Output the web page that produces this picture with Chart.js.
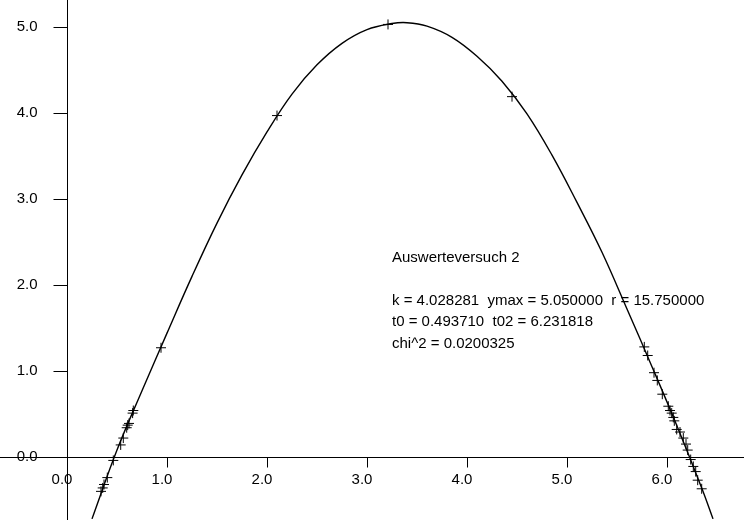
<!DOCTYPE html>
<html>
<head>
<meta charset="utf-8">
<script src="https://cdn.jsdelivr.net/npm/chart.js@4/dist/chart.umd.min.js"></script>
<style>
  html, body { margin: 0; padding: 0; background: #fff; }
  #wrap { width: 744px; height: 520px; }
</style>
</head>
<body>
<div id="wrap"><canvas id="chart" width="744" height="520"></canvas></div>
<script>
// fitted curve
const curveX = [0.25, 0.50, 0.75, 1.00, 1.25, 1.50, 1.75, 2.00, 2.25, 2.50, 2.75, 3.00, 3.25, 3.40, 3.60, 3.85, 4.10, 4.35, 4.60, 4.85, 5.10, 5.35, 5.60, 5.85, 6.10, 6.35, 6.46];
const curveY = [-0.72, 0.08, 0.77, 1.44, 2.10, 2.72, 3.28, 3.78, 4.22, 4.56, 4.81, 4.97, 5.04, 5.05, 5.01, 4.88, 4.66, 4.37, 3.99, 3.51, 2.96, 2.38, 1.72, 1.05, 0.36, -0.37, -0.72];

// measured points (+)
const pointX = [0.34, 0.357, 0.37, 0.403, 0.463, 0.537, 0.563, 0.597, 0.607, 0.62, 0.656, 0.663, 0.94, 2.10, 3.21, 4.45,
  5.773, 5.807, 5.87, 5.903, 5.953, 6.013, 6.03, 6.047, 6.063, 6.073, 6.097, 6.13, 6.163, 6.19, 6.207, 6.237, 6.263, 6.287, 6.307, 6.347];
const pointY = [-0.40, -0.36, -0.32, -0.24, -0.04, 0.14, 0.22, 0.34, 0.37, 0.39, 0.51, 0.54, 1.27, 3.97, 5.03, 4.19,
  1.28, 1.18, 0.98, 0.89, 0.73, 0.59, 0.54, 0.51, 0.46, 0.42, 0.32, 0.29, 0.22, 0.15, 0.08, -0.03, -0.11, -0.17, -0.27, -0.37];

const xTicks = [0, 1, 2, 3, 4, 5, 6];
const yTicks = [0, 1, 2, 3, 4, 5];

const infoLines = [
  "Auswerteversuch 2",
  "",
  "k = 4.028281  ymax = 5.050000  r = 15.750000",
  "t0 = 0.493710  t02 = 6.231818",
  "chi^2 = 0.0200325"
];

const FONT = '15px "Liberation Sans", Arial, sans-serif';

// axes crossing at the origin, plus the text block
const crossAxes = {
  id: "crossAxes",
  afterDatasetsDraw(chart) {
    const ctx = chart.ctx;
    const xs = chart.scales.x, ys = chart.scales.y;
    const x0 = Math.round(xs.getPixelForValue(0)) + 0.5;
    const y0 = Math.round(ys.getPixelForValue(0)) + 0.5;
    ctx.save();
    ctx.strokeStyle = "#000";
    ctx.lineWidth = 1;
    ctx.beginPath();
    ctx.moveTo(0, y0); ctx.lineTo(chart.width, y0);
    ctx.moveTo(x0, 0); ctx.lineTo(x0, chart.height);
    xTicks.forEach(v => {
      if (v === 0) return;
      const px = Math.round(xs.getPixelForValue(v)) + 0.5;
      ctx.moveTo(px, y0); ctx.lineTo(px, y0 + 10);
    });
    yTicks.forEach(v => {
      if (v === 0) return;
      const py = Math.round(ys.getPixelForValue(v)) + 0.5;
      ctx.moveTo(x0 - 14, py); ctx.lineTo(x0, py);
    });
    ctx.stroke();

    ctx.fillStyle = "#000";
    ctx.font = FONT;
    ctx.textBaseline = "middle";
    ctx.textAlign = "center";
    xTicks.forEach(v => {
      ctx.fillText(v.toFixed(1), xs.getPixelForValue(v) - 5, y0 + 22);
    });
    ctx.textAlign = "right";
    yTicks.forEach(v => {
      ctx.fillText(v.toFixed(1), x0 - 30, ys.getPixelForValue(v));
    });

    ctx.textAlign = "left";
    const tx = xs.getPixelForValue(3.25);
    let ty = ys.getPixelForValue(2.32);
    infoLines.forEach(line => {
      ctx.fillText(line, tx, ty);
      ty += 21.5;
    });
    ctx.restore();
  }
};

new Chart(document.getElementById("chart"), {
  type: "scatter",
  data: {
    datasets: [
      {
        label: "Fit",
        data: curveX.map((x, i) => ({ x: x, y: curveY[i] })),
        showLine: true,
        borderColor: "#000",
        borderWidth: 1.4,
        pointRadius: 0,
        tension: 0.4
      },
      {
        label: "Messwerte",
        data: pointX.map((x, i) => ({ x: x, y: pointY[i] })),
        showLine: false,
        pointStyle: "cross",
        pointRadius: 5,
        borderColor: "#000",
        borderWidth: 1
      }
    ]
  },
  options: {
    responsive: false,
    animation: false,
    layout: { padding: 0, autoPadding: false },
    plugins: { legend: { display: false }, tooltip: { enabled: false } },
    scales: {
      x: { type: "linear", min: -0.67, max: 6.77, display: false },
      y: { type: "linear", min: -0.733, max: 5.314, display: false }
    }
  },
  plugins: [crossAxes]
});
</script>
</body>
</html>
